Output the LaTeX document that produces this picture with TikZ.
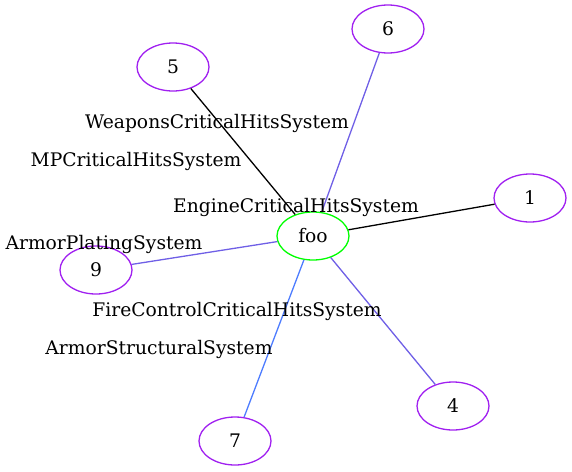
\documentclass[tikz,border=0pt]{standalone}
\usepackage{fontspec}
\setmainfont{DejaVu Serif}
\usetikzlibrary{shapes.geometric}
\definecolor{gvPurple}{HTML}{A020F0}
\definecolor{gvGreen} {HTML}{00FF00}
\definecolor{gvSlate} {HTML}{6F5FE6}
\definecolor{gvRoyal} {HTML}{4D7CFF}

\tikzset{
  gvnode/.style={ellipse,draw=gvPurple,line width=1.3pt,minimum width=72pt,
    minimum height=48pt,inner sep=0pt,font=\fontsize{18.7}{22}\selectfont},
  gvroot/.style={gvnode,draw=gvGreen},
  gvlabel/.style={inner sep=0pt,font=\fontsize{18.7}{22}\selectfont},
  gvedge/.style={line width=1.3pt}
}

\begin{document}
\begin{tikzpicture}[x=1pt,y=-1pt]
    \useasboundingbox (0,0) rectangle (572,471);
    % nodes
    \node[gvroot] (foo) at (313,236) {foo};
    \node[gvnode] (n5) at (173,67) {5};
    \node[gvnode] (n6) at (388,29) {6};
    \node[gvnode] (n1) at (530,198) {1};
    \node[gvnode] (n9) at (96,270) {9};
    \node[gvnode] (n7) at (235,441) {7};
    \node[gvnode] (n4) at (453,406) {4};
    % edges
    \draw[gvedge,black] (foo) -- (n5);
    \draw[gvedge,gvSlate] (foo) -- (n6);
    \draw[gvedge,black] (foo) -- (n1);
    \draw[gvedge,gvSlate] (foo) -- (n9);
    \draw[gvedge,gvRoyal] (foo) -- (n7);
    \draw[gvedge,gvSlate] (foo) -- (n4);
    % labels
    \node[gvlabel] (lWeapons) at (217,123) {WeaponsCriticalHitsSystem};
    \node[gvlabel] (lMP) at (136,161) {MPCriticalHitsSystem};
    \node[gvlabel] (lEngine) at (296,207) {EngineCriticalHitsSystem};
    \node[gvlabel] (lPlating) at (104,244) {ArmorPlatingSystem};
    \node[gvlabel] (lFire) at (237,311) {FireControlCriticalHitsSystem};
    \node[gvlabel] (lStruct) at (159,349) {ArmorStructuralSystem};
  \end{tikzpicture}
\end{document}
